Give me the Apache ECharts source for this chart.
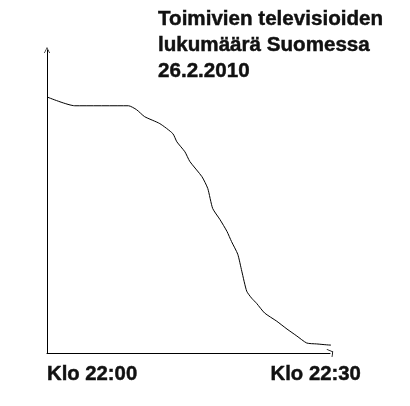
<!DOCTYPE html>
<html>
<head>
<meta charset="utf-8">
<script src="https://cdn.jsdelivr.net/npm/echarts@6/dist/echarts.min.js"></script>
<style>html,body{margin:0;padding:0;background:#fff;}#c{width:410px;height:406px;}</style>
</head>
<body>
<div id="c"></div>
<script>
// Minutes after 22:00
var minutes = [0, 3.1, 9.1, 10.0, 10.9, 12.6, 14.05, 14.5, 15.4, 15.95, 17.3, 17.95, 18.5, 19.3, 20.1, 20.6, 21.3, 21.75, 22.3, 22.85, 23.4, 24.3, 25.65, 26.8, 27.9, 29.0, 30.1, 31.8, 32.7];
// Relative number of working TV sets (arbitrary scale 0-100)
var working = [84.5, 81.6, 81.6, 80.3, 78.0, 75.7, 72.4, 69.7, 66.4, 63.2, 58.2, 54.3, 47.7, 44.1, 40.1, 36.8, 32.6, 27.0, 20.4, 18.1, 16.4, 13.2, 10.5, 7.9, 5.6, 3.3, 3.0, 2.6, 3.0];
var tickValues = [0, 30];
var tickLabels = ['Klo 22:00', 'Klo 22:30'];
var titleLines = ['Toimivien televisioiden', 'lukumäärä Suomessa', '26.2.2010'];

var font = '"Liberation Sans", Arial, sans-serif';
var chart = echarts.init(document.getElementById('c'), null, {renderer: 'canvas'});
chart.setOption({
  animation: false,
  backgroundColor: '#ffffff',
  title: {
    text: titleLines.join('\n'),
    left: 158, top: 6, padding: 0,
    textStyle: {fontFamily: font, fontSize: 20.6, fontWeight: 'bold', color: '#111', lineHeight: 26,
      textBorderColor: '#111', textBorderWidth: 0.45}
  },
  grid: {left: 47, top: 50, right: 80, bottom: 53, containLabel: false},
  xAxis: {
    type: 'value', min: 0, max: 31.6, interval: 30,
    axisLine: {show: true, lineStyle: {color: '#000', width: 1},
      symbol: ['none', 'path://M0,8 L3,0 L10,1 L10,2 L3.6,1.2 L1,8 Z'], symbolSize: [8, 7]},
    axisTick: {show: false}, splitLine: {show: false},
    axisLabel: {
      margin: 11, fontFamily: font, fontSize: 20.3, fontWeight: 'bold', color: '#111',
      textBorderColor: '#111', textBorderWidth: 0.45,
      align: 'center', alignMinLabel: 'left',
      formatter: function (v) { var i = tickValues.indexOf(v); return i >= 0 ? tickLabels[i] : ''; }
    }
  },
  yAxis: {
    type: 'value', min: 0, max: 100,
    axisLine: {show: true, lineStyle: {color: '#000', width: 1},
      symbol: ['none', 'path://M0,10 L5,0 L10,10 L8.8,10 L5,2.2 L1.2,10 Z'], symbolSize: [8, 6]},
    axisTick: {show: false}, splitLine: {show: false}, axisLabel: {show: false}
  },
  series: [{
    type: 'line',
    data: minutes.map(function (m, i) { return [m, working[i]]; }),
    showSymbol: false, clip: false, smooth: 0.2,
    lineStyle: {color: '#000', width: 1}
  }]
});
</script>
</body>
</html>
